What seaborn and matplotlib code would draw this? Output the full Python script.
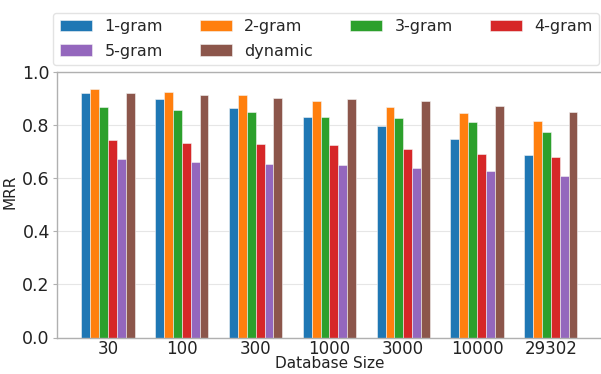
import matplotlib
matplotlib.use("Agg")
import matplotlib.pyplot as plt
import seaborn as sns
import pandas as pd

sizes = ["30", "100", "300", "1000", "3000", "10000", "29302"]
series = ["1-gram", "2-gram", "3-gram", "4-gram", "5-gram", "dynamic"]
mrr_1gram = [0.922, 0.897, 0.866, 0.832, 0.798, 0.746, 0.687]
mrr_2gram = [0.935, 0.925, 0.915, 0.891, 0.870, 0.847, 0.815]
mrr_3gram = [0.867, 0.858, 0.850, 0.832, 0.826, 0.811, 0.774]
mrr_4gram = [0.743, 0.733, 0.729, 0.725, 0.709, 0.692, 0.679]
mrr_5gram = [0.673, 0.660, 0.655, 0.650, 0.639, 0.627, 0.610]
mrr_dynamic = [0.920, 0.912, 0.903, 0.900, 0.890, 0.873, 0.848]

values = [mrr_1gram, mrr_2gram, mrr_3gram, mrr_4gram, mrr_5gram, mrr_dynamic]
rows = []
for name, vals in zip(series, values):
    for s, v in zip(sizes, vals):
        rows.append({"Database Size": s, "MRR": v, "model": name})
df = pd.DataFrame(rows)

sns.set_style("whitegrid")
plt.rcParams["font.family"] = ["DejaVu Sans"]

fig = plt.figure(figsize=(6.01, 3.74), dpi=100)
ax = fig.add_axes([56.7 / 601, 36.5 / 374, (602.2 - 56.7) / 601, (337.5 - 72) / 374])

sns.barplot(data=df, x="Database Size", y="MRR", hue="model", order=sizes,
            hue_order=series, palette="tab10", saturation=1, width=0.72,
            errorbar=None, edgecolor="#f4f4f4", linewidth=0.4, ax=ax)

ax.set_xlim(-0.696, 6.696)
ax.set_ylim(0, 1.0)
ax.set_yticks([0.0, 0.2, 0.4, 0.6, 0.8, 1.0])
ax.grid(axis="x", visible=False)
ax.grid(axis="y", color="#e6e6e6", linewidth=0.8)
for sp in ax.spines.values():
    sp.set_color("#b0b0b0")
    sp.set_linewidth(1.0)
ax.tick_params(axis="both", labelsize=12.5, colors="#222222", length=3, width=0.8)
ax.tick_params(axis="y", color="#b0b0b0", left=True, pad=2)
ax.tick_params(axis="x", length=0, pad=1.5, labelsize=12)
ax.set_xlabel("Database Size", fontsize=11, labelpad=-1, color="#222222")
ax.set_ylabel("MRR", fontsize=11, color="#222222")
ax.yaxis.set_label_coords(-0.071, 0.55)

handles, labels = ax.get_legend_handles_labels()
order = [0, 4, 1, 5, 2, 3]
ax.legend([handles[i] for i in order], [labels[i] for i in order], ncol=4,
          loc="upper left",
          bbox_to_anchor=(53.3 / 601, 1 - 12.7 / 374), bbox_transform=fig.transFigure,
          borderaxespad=0, fontsize=11.5, frameon=True, fancybox=True,
          edgecolor="#dddddd", columnspacing=2.3, handlelength=2.0,
          handletextpad=0.8, labelspacing=0.6, borderpad=0.4)

fig.savefig("out.png", dpi=100)
